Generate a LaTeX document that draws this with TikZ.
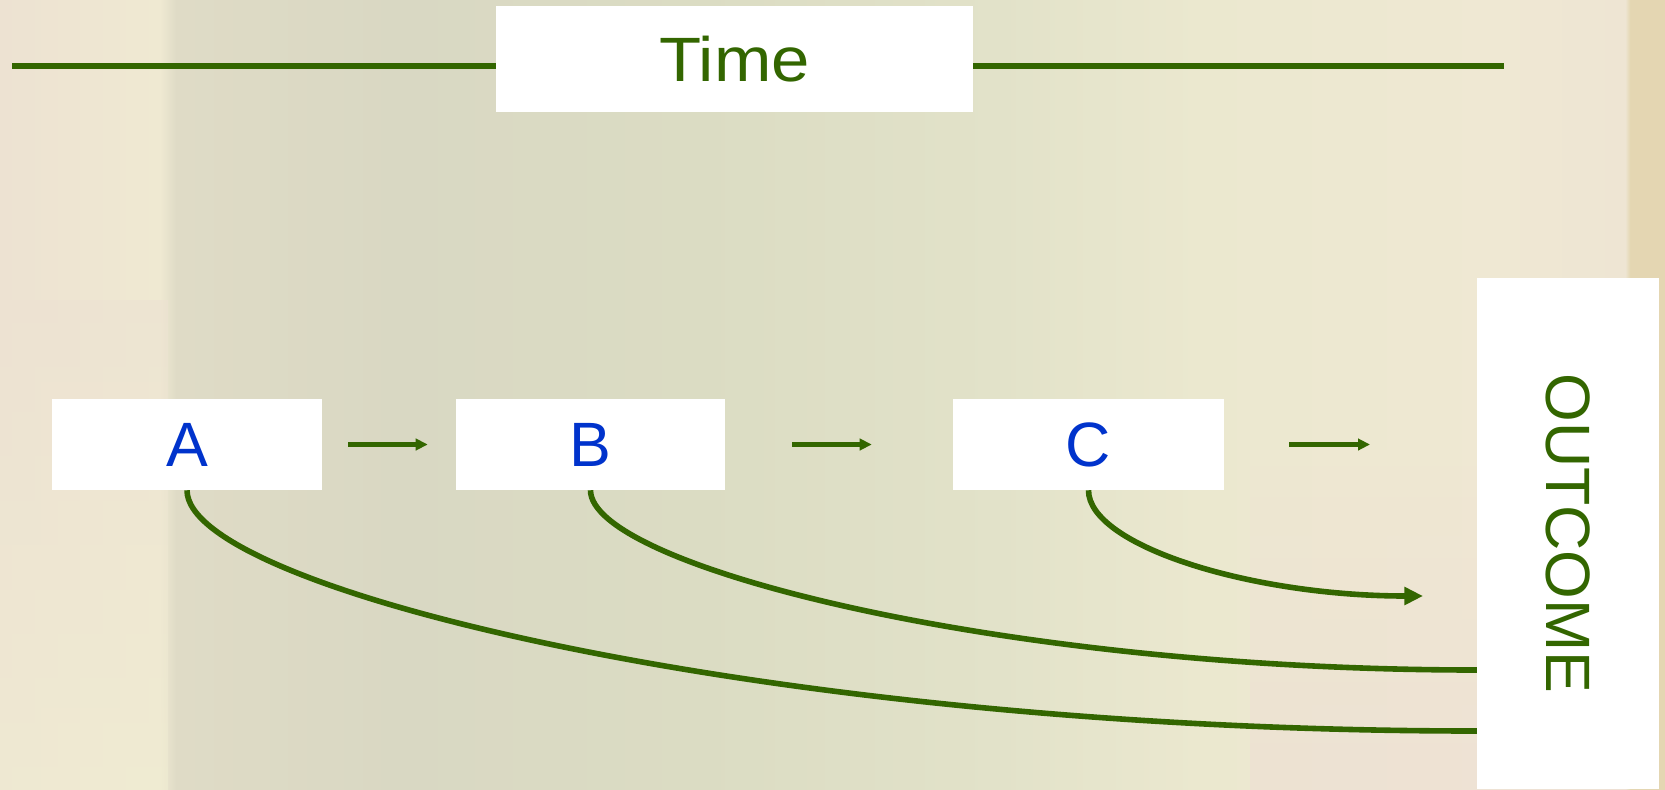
\documentclass[tikz,border=0pt]{standalone}
\usepackage{fontspec}
\setmainfont{Liberation Sans}
\usetikzlibrary{arrows.meta,calc}
\definecolor{grn}{HTML}{336600}
\definecolor{blu}{HTML}{0033CC}
\definecolor{bgA}{HTML}{EDE2D2}
\definecolor{bgB}{HTML}{EFE9D2}
\definecolor{bgC}{HTML}{DFDBC6}
\definecolor{bgD}{HTML}{D9D8C3}
\definecolor{bgE}{HTML}{DBDCC3}
\definecolor{bgF}{HTML}{E2E2C9}
\definecolor{bgG}{HTML}{EBE8CF}
\definecolor{bgH}{HTML}{EFE8D3}
\definecolor{bgI}{HTML}{EEE5D3}
\definecolor{bgJ}{HTML}{E4D6B2}
\definecolor{bgY}{HTML}{F0EDD2}
\definecolor{bgP}{HTML}{EEDDD5}
\pgfdeclarehorizontalshading{bgshade}{100bp}{color(0bp)=(bgA); color(25bp)=(bgA); color(29.8bp)=(bgB); color(30.3bp)=(bgC); color(37bp)=(bgD); color(46bp)=(bgE); color(55bp)=(bgF); color(61bp)=(bgG); color(70bp)=(bgH); color(73.8bp)=(bgI); color(73.95bp)=(bgJ); color(75bp)=(bgJ); color(100bp)=(bgJ)}
\tikzset{
  box/.style={fill=white, draw=none, inner sep=0pt, font=\fontsize{47}{56}\selectfont},
  conn/.style={draw=grn, line width=4.2pt},
  sarrow/.style={draw=grn, line width=4.2pt, -{Triangle[length=9pt,width=8.5pt]}},
  barrow/.style={draw=grn, line width=4.2pt, -{Triangle[length=14pt,width=13pt]}}
}
\begin{document}
\begin{tikzpicture}[x=0.75pt,y=-0.75pt]
\useasboundingbox (0,0) rectangle (1665,789);
% background
\shade[shading=bgshade] (0,0) rectangle (1665,789);
\shade[top color=bgA, bottom color=bgY, opacity=0.6] (0,300) rectangle (168,789);
\shade[top color=bgH, bottom color=bgP, opacity=0.5] (1250,450) rectangle (1627,789);
% time line
\coordinate (tl) at (12,66);
\coordinate (tr) at (1504,66);
\draw[draw=grn, line width=4.8pt] (tl) -- (tr);
\node[box, text=grn, minimum width=357.75pt, minimum height=79.5pt] (time) at (734.5,59) {\scalebox{1.1}[1]{Time}};
% boxes
\node[box, text=blu, minimum width=202.5pt, minimum height=68.25pt] (A) at (187,444.5) {A};
\node[box, text=blu, minimum width=201.75pt, minimum height=68.25pt] (B) at (590.5,444.5) {B};
\node[box, text=blu, minimum width=203.25pt, minimum height=68.25pt] (C) at (1088.5,444.5) {C};
\node[box, text=grn, minimum width=136.5pt, minimum height=383.25pt] (out) at (1568,533.5) {\rotatebox{-90}{OUTCOME}};
% small arrows
\coordinate (cend) at (1370,444.5);
\draw[sarrow] ([xshift=19.5pt]A.east) -- ([xshift=-21pt]B.west);
\draw[sarrow] ([xshift=50.25pt]B.east) -- ([xshift=-60.75pt]C.west);
\draw[sarrow] ([xshift=48.75pt]C.east) -- (cend);
% curves
\coordinate (ea) at ($(out.west)+(0,197.5)$);
\coordinate (eb) at ($(out.west)+(0,136.5)$);
\coordinate (ec) at (1423,596);
\draw[conn] (A.south) .. controls +(0,100) and +(-700,0) .. (ea);
\draw[conn] (B.south) .. controls +(0,75) and +(-479,0) .. (eb);
\draw[barrow] (C.south) .. controls +(0,55) and +(-173,0) .. (ec);
\end{tikzpicture}
\end{document}
